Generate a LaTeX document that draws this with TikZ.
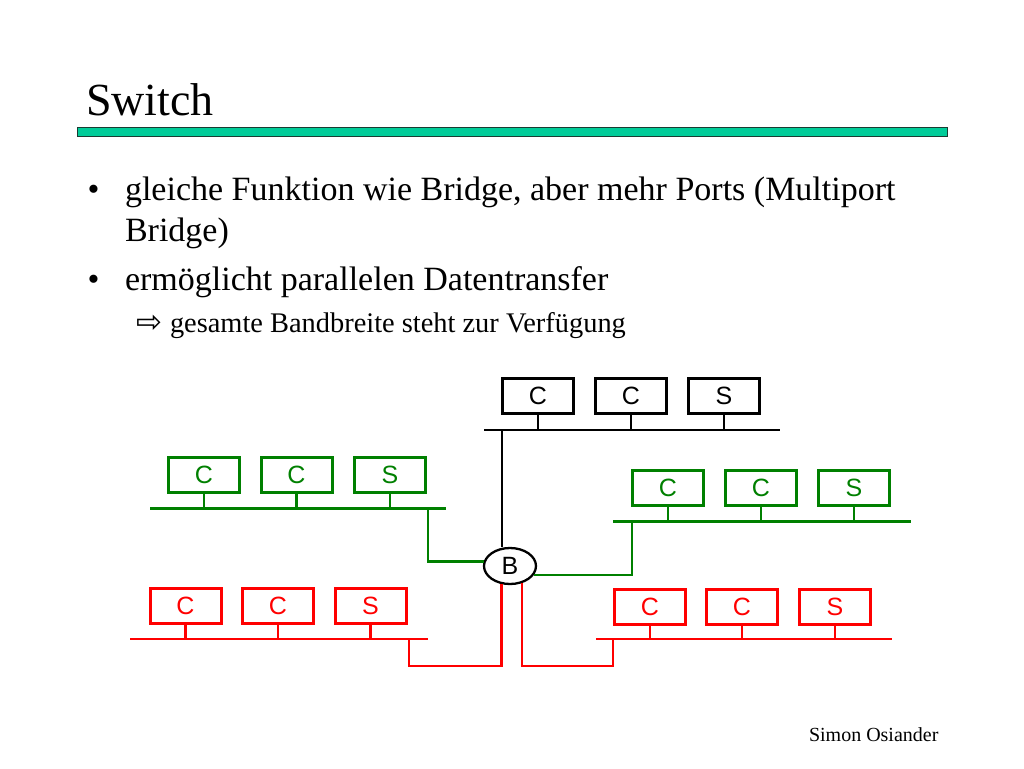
\documentclass[tikz,border=0pt]{standalone}
\usepackage{fontspec}
\setmainfont{Liberation Serif}
\newfontfamily\arialf{Liberation Sans}
\newfontfamily\dejavuf{DejaVu Sans}
\usetikzlibrary{shapes.geometric}
\definecolor{grn}{RGB}{0,128,0}
\definecolor{rd}{RGB}{255,0,0}
\definecolor{tealbar}{RGB}{0,204,153}
\definecolor{barline}{RGB}{25,60,50}
\begin{document}
\begin{tikzpicture}[x=1pt,y=-1pt,
  box/.style={draw, line width=3pt, minimum width=71pt, minimum height=35pt, inner sep=0pt,
              font=\arialf\fontsize{25}{25}\selectfont},
  bus/.style={line width=2.3pt},
  txt/.style={anchor=base west, inner sep=0pt, outer sep=0pt},
  big/.style={font=\fontsize{34}{40}\selectfont},
]
\useasboundingbox (0,0) rectangle (1024,768);
\fill[white] (0,0) rectangle (1024,768);

% title and bar
\node[txt, font=\fontsize{46}{54}\selectfont] (title) at (86,115) {Switch};
\draw[fill=tealbar, draw=barline, line width=1pt] (77,127.5) rectangle (947,136.5);

% bullet text
\node[txt, big] (bul1) at (87.5,200) {•};
\node[txt, big] (line1) at (125,200) {gleiche Funktion wie Bridge, aber mehr Ports (Multiport};
\node[txt, big] (line2) at (125,241) {Bridge)};
\node[txt, big] (bul2) at (87.5,290) {•};
\node[txt, big] (line3) at (125,290) {ermöglicht parallelen Datentransfer};
\node[txt, font=\dejavuf\fontsize{31}{31}\selectfont] (arr) at (136,332) {⇨};
\node[txt, font=\fontsize{28.4}{34}\selectfont] (line4) at (170,332) {gesamte Bandbreite steht zur Verfügung};
\node[txt, font=\fontsize{20}{24}\selectfont] (foot) at (809,741) {Simon Osiander};

% top (black) segment
\node[box] (t1) at (538,396) {C};
\node[box] (t2) at (631,396) {C};
\node[box] (t3) at (724,396) {S};
\coordinate (tbl) at (484,430);
\coordinate (tbr) at (780,430);
\draw[bus] (tbl) -- (tbr);
\foreach \n in {t1,t2,t3} \draw[bus] (\n.south) -- (\n.south |- tbl);

% left green segment
\node[box, grn] (g1) at (204,475) {C};
\node[box, grn] (g2) at (296.5,475) {C};
\node[box, grn] (g3) at (390,475) {S};
\coordinate (gbl) at (150,508.5);
\coordinate (gbr) at (446,508.5);
\draw[bus, grn] (gbl) -- (gbr);
\foreach \n in {g1,g2,g3} \draw[bus, grn] (\n.south) -- (\n.south |- gbl);

% right green segment
\node[box, grn] (h1) at (668,488) {C};
\node[box, grn] (h2) at (761,488) {C};
\node[box, grn] (h3) at (854,488) {S};
\coordinate (hbl) at (613,521.5);
\coordinate (hbr) at (911,521.5);
\draw[bus, grn] (hbl) -- (hbr);
\foreach \n in {h1,h2,h3} \draw[bus, grn] (\n.south) -- (\n.south |- hbl);

% left red segment
\node[box, rd] (r1) at (185.5,606) {C};
\node[box, rd] (r2) at (278,606) {C};
\node[box, rd] (r3) at (370.5,606) {S};
\coordinate (rbl) at (130,639);
\coordinate (rbr) at (428,639);
\draw[bus, rd] (rbl) -- (rbr);
\foreach \n in {r1,r2,r3} \draw[bus, rd] (\n.south) -- (\n.south |- rbl);

% right red segment
\node[box, rd] (s1) at (650,606.5) {C};
\node[box, rd] (s2) at (742,606.5) {C};
\node[box, rd] (s3) at (835,606.5) {S};
\coordinate (sbl) at (596,639);
\coordinate (sbr) at (892,639);
\draw[bus, rd] (sbl) -- (sbr);
\foreach \n in {s1,s2,s3} \draw[bus, rd] (\n.south) -- (\n.south |- sbl);

% bridge
\node[draw, ellipse, line width=2.3pt, minimum width=52pt, minimum height=36pt, inner sep=0pt,
      font=\arialf\fontsize{25}{25}\selectfont] (B) at (510,566) {B};

% connections to bridge
\coordinate (tj) at (502,430);
\draw[bus] (tj) -- (B.north -| tj);
\coordinate (gj) at (428,508.5);
\draw[bus, grn] (gj) |- (B.170);
\coordinate (hj) at (632,521.5);
\draw[bus, grn] (B.340) -| (hj);
\coordinate (rj) at (409,639);
\coordinate (rc) at (409,666);
\draw[bus, rd] (B.245) |- (rc) -- (rj);
\coordinate (sj) at (613,639);
\coordinate (sc) at (613,666);
\draw[bus, rd] (B.304) |- (sc) -- (sj);
\end{tikzpicture}
\end{document}
